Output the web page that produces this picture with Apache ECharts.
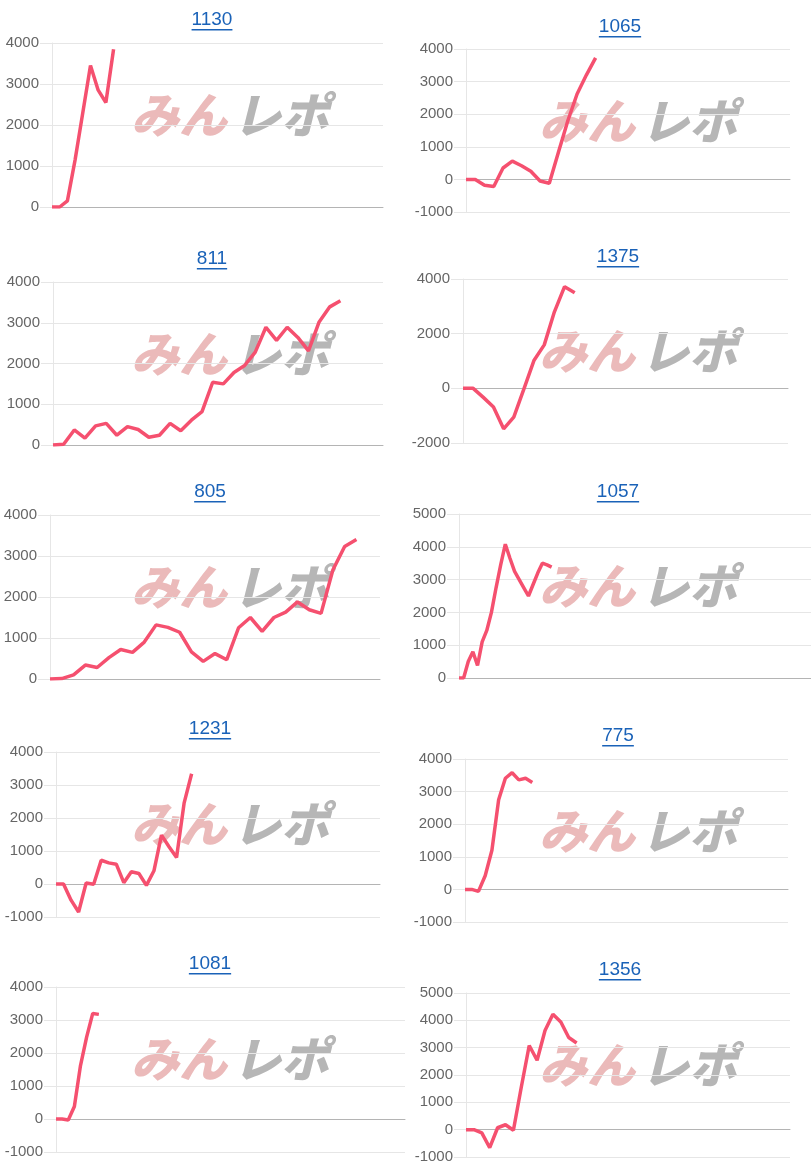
<!DOCTYPE html>
<html>
<head>
<meta charset="utf-8">
<script src="https://cdn.jsdelivr.net/npm/echarts@6/dist/echarts.min.js"></script>
<style>
  html, body { margin: 0; padding: 0; background: #fff; }
  #main { width: 811px; height: 1175px; }
</style>
</head>
<body>
<div id="main"></div>
<script>
// panel titles, in reading order (left, right, left, right ...)
const titles = ['1130', '1065', '811', '1375', '805', '1057', '1231', '775', '1081', '1356']

// how many x slots each panel has (labels are hidden)
const pointCounts = [44, 36, 32, 33, 29, 77, 44, 49, 58, 42]

// cumulative values
const profit1130 = [0, 0, 150, 1150, 2300, 3450, 2850, 2550, 3850]
const profit1065 = [0, 0, -180, -220, 350, 560, 420, 250, -50, -120, 850, 1800, 2620, 3200, 3730]
const profit811 = [0, 20, 370, 170, 470, 530, 240, 450, 380, 190, 240, 530, 350, 610, 820, 1540, 1500, 1780, 1950, 2280, 2890, 2570, 2890, 2640, 2310, 3020, 3390, 3540]
const profit1375 = [0, 0, -330, -680, -1480, -1050, -20, 1030, 1590, 2800, 3720, 3500]
const profit805 = [0, 10, 100, 340, 280, 520, 720, 650, 900, 1320, 1260, 1140, 660, 430, 620, 470, 1250, 1500, 1160, 1500, 1630, 1880, 1690, 1600, 2660, 3230, 3400]
const profit1057 = [0, 0, 500, 800, 380, 1100, 1450, 2000, 2750, 3450, 4080, 3650, 3250, 3000, 2750, 2500, 2850, 3200, 3500, 3450, 3380]
const profit1231 = [0, 0, -490, -850, 30, -10, 720, 640, 600, 40, 370, 320, -40, 400, 1480, 1130, 800, 2450, 3340]
const profit775 = [0, 0, -60, 420, 1200, 2750, 3410, 3580, 3360, 3410, 3280]
const profit1081 = [0, 0, -30, 380, 1620, 2480, 3200, 3170]
const profit1356 = [0, 0, -120, -660, 70, 180, -20, 1560, 3080, 2540, 3630, 4220, 3940, 3370, 3170]

const seriesValues = [profit1130, profit1065, profit811, profit1375, profit805, profit1057, profit1231, profit775, profit1081, profit1356]

// y axis ranges
const yMin = [0, -1000, 0, -2000, 0, 0, -1000, -1000, -1000, -1000]
const yMax = [4000, 4000, 4000, 4000, 4000, 5000, 4000, 4000, 4000, 5000]
const yStep = [1000, 1000, 1000, 2000, 1000, 1000, 1000, 1000, 1000, 1000]

// plot boxes [left, right, top, bottom] in px
const panels = [
  [52, 383, 43, 207], [466, 790, 49, 212],
  [53, 383, 282, 445], [463, 788, 279, 443],
  [50, 380, 515, 679], [459, 826, 514, 678],
  [56, 380, 752, 917], [465, 788, 759, 922],
  [56, 405, 987, 1152], [466, 790, 993, 1157]
]
// title centers [x, y]
const titlePos = [
  [212, 20], [620, 27],
  [212, 259], [618, 257],
  [210, 492], [618, 492],
  [210, 729], [618, 736],
  [210, 964], [620, 970]
]

const LINE = '#f5506f'
const GRID = '#e6e6e6'
const FONT = "'Liberation Sans', Arial, sans-serif"
const LINK = '#1a62b8'
const LOGO_FONT = "italic 900 48px 'Noto Sans CJK JP'"

const ctx = document.createElement('canvas').getContext('2d')
ctx.font = '19px ' + FONT

const grid = []
const xAxis = []
const yAxis = []
const series = []
const title = []
const graphic = []

titles.forEach((name, i) => {
  const [l, r, t, b] = panels[i]
  grid.push({ left: l, top: t, width: r - l, height: b - t, containLabel: false })

  const cats = []
  for (let k = 1; k <= pointCounts[i]; k++) cats.push(String(k))

  xAxis.push({
    gridIndex: i,
    type: 'category',
    data: cats,
    boundaryGap: false,
    axisLabel: { show: false },
    axisTick: { show: false },
    splitLine: { show: false },
    axisLine: { onZero: true, lineStyle: { color: '#b4b4b4', width: 1 } }
  })

  yAxis.push({
    gridIndex: i,
    type: 'value',
    min: yMin[i],
    max: yMax[i],
    interval: yStep[i],
    axisLine: { show: true, lineStyle: { color: GRID } },
    axisTick: { show: true, length: 12, lineStyle: { color: GRID } },
    axisLabel: { color: '#666', fontSize: 15, fontFamily: FONT, margin: 13, formatter: v => String(v) },
    splitLine: { lineStyle: { color: GRID } }
  })

  series.push({
    type: 'line',
    xAxisIndex: i,
    yAxisIndex: i,
    data: seriesValues[i],
    showSymbol: false,
    z: 3,
    lineStyle: { color: LINE, width: 3.5 },
    itemStyle: { color: LINE }
  })

  const [cx, cy] = titlePos[i]
  title.push({
    text: name,
    left: cx,
    top: cy - 10,
    textAlign: 'center',
    padding: 0,
    textStyle: { color: LINK, fontSize: 19, fontWeight: 'normal', fontFamily: FONT }
  })
  const w = ctx.measureText(name).width
  graphic.push({
    type: 'rect',
    shape: { x: cx - w / 2, y: cy + 9, width: w, height: 1.5 },
    style: { fill: LINK },
    silent: true
  })

  // watermark logo
  const wx = i % 2 === 0 ? 131 : 539
  const wy = t + 72
  graphic.push({
    type: 'group',
    x: wx,
    y: wy,
    z: 1,
    silent: true,
    children: [
      {
        type: 'text',
        x: 0,
        y: 0,
        style: { text: 'みん', font: LOGO_FONT, fill: '#ebbaba', verticalAlign: 'middle' }
      },
      {
        type: 'text',
        x: 102,
        y: 0,
        style: { text: 'レポ', font: LOGO_FONT, fill: '#b6b6b6', verticalAlign: 'middle' }
      }
    ]
  })
})

const chart = echarts.init(document.getElementById('main'))
chart.setOption({
  animation: false,
  backgroundColor: '#fff',
  title,
  grid,
  xAxis,
  yAxis,
  series,
  graphic
})
</script>
</body>
</html>
